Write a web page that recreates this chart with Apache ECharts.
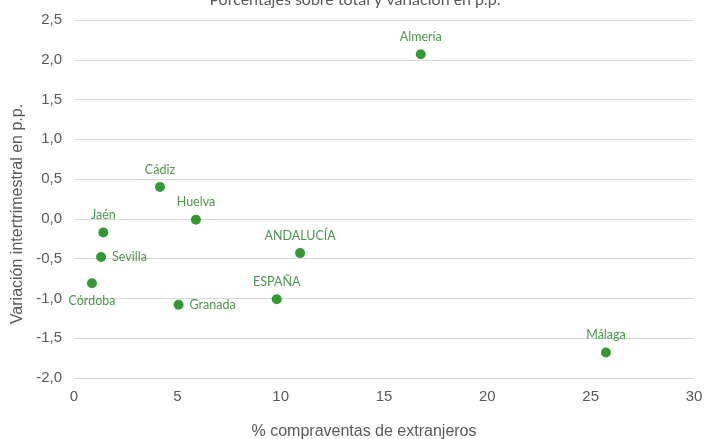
<!DOCTYPE html>
<html><head><meta charset="utf-8">
<script src="https://cdn.jsdelivr.net/npm/echarts@6/dist/echarts.min.js"></script>
<style>html,body{margin:0;padding:0;background:#fff}#c{width:706px;height:439px}</style>
</head><body><div id="c"></div>
<script>
const names = ['Almería','Cádiz','Huelva','Jaén','Sevilla','Córdoba','Granada','ANDALUCÍA','ESPAÑA','Málaga'];
const xValues = [16.78, 4.16, 5.90, 1.42, 1.31, 0.87, 5.06, 10.94, 9.81, 25.74];
const yValues = [2.07, 0.40, -0.01, -0.17, -0.48, -0.81, -1.08, -0.43, -1.01, -1.68];
const labelPos = ['top','top','top','top','right','bottom','right','top','top','top'];
const yTicks = [-2.0,-1.5,-1.0,-0.5,0.0,0.5,1.0,1.5,2.0,2.5];

const data = names.map((n,i)=>({
  value:[xValues[i], yValues[i]], name:n,
  label:{position:labelPos[i]}
}));
const tickFont = 'Liberation Sans Narrow, Liberation Sans';
const chart = echarts.init(document.getElementById('c'));
chart.setOption({
  animation:false,
  title:{text:'Porcentajes sobre total y variación en p.p.', left:350, textAlign:'center', top:-13,
    textStyle:{color:'#595959', fontSize:16, fontWeight:'normal', fontFamily:'Lato'}},
  grid:{left:74,right:12,top:20,bottom:61,containLabel:false,outerBoundsMode:'none'},
  xAxis:{type:'value',min:0,max:30,interval:5,
    name:'% compraventas de extranjeros',nameLocation:'middle',nameGap:46,
    nameTextStyle:{color:'#595959',fontSize:16,fontFamily:tickFont,padding:[0,40,0,0]},
    axisLine:{show:false},axisTick:{show:false},splitLine:{show:false},
    axisLabel:{color:'#595959',fontSize:15,fontFamily:tickFont,margin:11}},
  yAxis:{type:'value',min:-2,max:2.5,interval:0.5,
    name:'Variación intertrimestral en p.p.',nameLocation:'middle',nameGap:41,
    nameTextStyle:{color:'#595959',fontSize:16,fontFamily:tickFont,padding:[0,30,0,0]},
    axisLine:{show:false},axisTick:{show:false},
    splitLine:{lineStyle:{color:'#d9d9d9',width:1}},
    axisLabel:{color:'#595959',fontSize:15,fontFamily:tickFont,margin:12,
      formatter:v=>v.toFixed(1).replace('.',',')}},
  series:[{type:'scatter',symbolSize:10,data:data,
    itemStyle:{color:'#008000'},
    label:{show:true,formatter:p=>p.name,color:'#1e7a1e',fontSize:12.5,fontFamily:'Lato',distance:6}}]
});
</script></body></html>
